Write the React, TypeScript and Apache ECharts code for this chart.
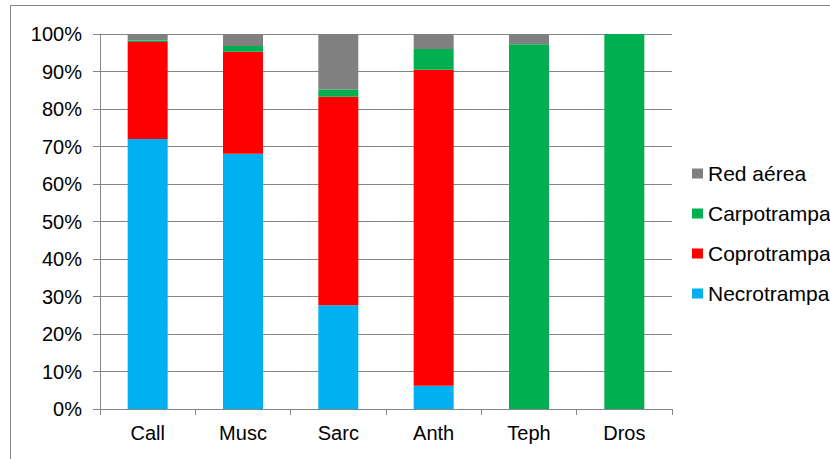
import React, { useEffect, useRef } from "react";
import * as echarts from "echarts";

const categories = ["Call", "Musc", "Sarc", "Anth", "Teph", "Dros"];
const necrotrampa = [72.0, 68.1, 27.7, 6.2, 0, 0];
const coprotrampa = [25.9, 27.2, 55.6, 84.3, 0, 0];
const carpotrampa = [0.4, 1.5, 1.9, 5.5, 97.3, 100];
const redAerea = [1.7, 3.2, 14.8, 4.0, 2.7, 0];
const yTicks = [0, 10, 20, 30, 40, 50, 60, 70, 80, 90, 100];

const FONT = "'Liberation Sans', Arial, sans-serif";

export default function App() {
  const ref = useRef<HTMLDivElement>(null);
  useEffect(() => {
    if (!ref.current) return;
    const chart = echarts.init(ref.current, null, { renderer: "svg" });
    const mk = (name: string, data: number[], color: string) => ({
      name,
      type: "bar",
      stack: "total",
      data,
      barWidth: 40,
      itemStyle: { color },
      emphasis: { disabled: true },
    });
    chart.setOption({
      animation: false,
      backgroundColor: "#ffffff",
      textStyle: { fontFamily: FONT },
      graphic: [
        {
          type: "rect",
          shape: { x: 10.5, y: 5.5, width: 900, height: 500 },
          style: { fill: "none", stroke: "#868686", lineWidth: 1 },
          silent: true,
        },
      ],
      grid: { left: 100, top: 34, right: 158, bottom: 50, containLabel: false },
      legend: {
        orient: "vertical",
        left: 692,
        top: 163,
        padding: 0,
        icon: "rect",
        itemWidth: 11,
        itemHeight: 10,
        itemGap: 19,
        data: ["Red aérea", "Carpotrampa", "Coprotrampa", "Necrotrampa"],
        textStyle: { fontSize: 21, color: "#000", fontFamily: FONT, lineHeight: 20 },
        selectedMode: false,
      },
      xAxis: {
        type: "category",
        data: categories,
        axisLine: { lineStyle: { color: "#868686", width: 1 } },
        axisTick: { show: true, length: 6, lineStyle: { color: "#868686" } },
        axisLabel: { color: "#000", fontSize: 20, fontFamily: FONT, margin: 14 },
      },
      yAxis: {
        type: "value",
        min: 0,
        max: 100,
        interval: 10,
        axisLine: { show: true, lineStyle: { color: "#868686", width: 1 } },
        axisTick: { show: true, length: 7, lineStyle: { color: "#868686" } },
        splitLine: { show: true, lineStyle: { color: "#868686", width: 1 } },
        axisLabel: {
          color: "#000",
          fontSize: 20,
          fontFamily: FONT,
          margin: 18,
          formatter: (v: number) => (yTicks.includes(v) ? `${v}%` : ""),
        },
      },
      series: [
        mk("Necrotrampa", necrotrampa, "#00B0F0"),
        mk("Coprotrampa", coprotrampa, "#FF0000"),
        mk("Carpotrampa", carpotrampa, "#00B050"),
        mk("Red aérea", redAerea, "#808080"),
      ],
    });
    return () => chart.dispose();
  }, []);
  return (
    <div
      ref={ref}
      style={{ position: "fixed", left: 0, top: 0, width: 830, height: 459, background: "#fff" }}
    />
  );
}
